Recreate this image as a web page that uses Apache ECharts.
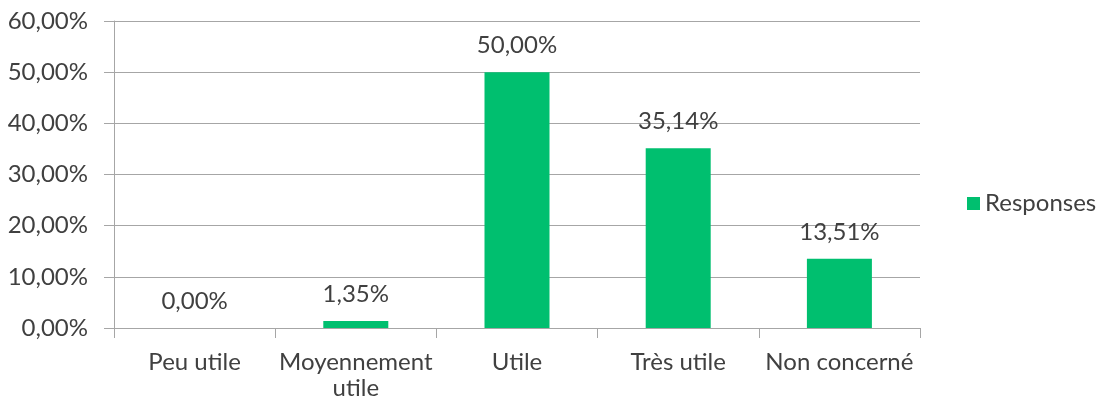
<!DOCTYPE html>
<html>
<head>
<meta charset="utf-8">
<script src="https://cdn.jsdelivr.net/npm/echarts@6/dist/echarts.min.js"></script>
<style>
  html, body { margin: 0; padding: 0; background: #fff; }
  #chart { width: 1100px; height: 407px; }
</style>
</head>
<body>
<div id="chart"></div>
<script>
const categories = ['Peu utile', 'Moyennement\nutile', 'Utile', 'Très utile', 'Non concerné']
const responses = [0, 1.35, 50.0, 35.14, 13.51]
const seriesName = 'Responses'

const fmt = (v) => v.toFixed(2).replace('.', ',') + '%'
const font = 'Lato, "Open Sans", sans-serif'
const textColor = '#404040'
const lineColor = '#a6a6a6'
const fs = 24

const chart = echarts.init(document.getElementById('chart'))

chart.setOption({
  animation: false,
  textStyle: { fontFamily: font },
  grid: { left: 114, right: 180, top: 21, bottom: 79, containLabel: false },
  legend: {
    data: [seriesName],
    left: 962,
    top: 'middle',
    orient: 'vertical',
    icon: 'rect',
    itemWidth: 13,
    itemHeight: 13,
    itemGap: 6,
    textStyle: { color: textColor, fontSize: fs, fontFamily: font }
  },
  xAxis: {
    type: 'category',
    data: categories,
    axisLine: { lineStyle: { color: lineColor, width: 1 } },
    axisTick: { show: true, length: 10, lineStyle: { color: lineColor } },
    axisLabel: {
      color: textColor,
      fontSize: fs,
      fontFamily: font,
      margin: 21,
      lineHeight: 26,
      interval: 0
    }
  },
  yAxis: {
    type: 'value',
    min: 0,
    max: 60,
    interval: 10,
    axisLine: { show: true, lineStyle: { color: lineColor, width: 1 } },
    axisTick: { show: true, length: 10, lineStyle: { color: lineColor } },
    splitLine: { lineStyle: { color: lineColor, width: 1 } },
    axisLabel: {
      color: textColor,
      fontSize: fs,
      fontFamily: font,
      margin: 26,
      formatter: (v) => fmt(v)
    }
  },
  series: [{
    name: seriesName,
    type: 'bar',
    data: responses,
    barWidth: 65,
    itemStyle: { color: '#00bf6f' },
    label: {
      show: true,
      position: 'top',
      distance: 15,
      color: textColor,
      fontSize: fs,
      fontFamily: font,
      formatter: (p) => fmt(p.value)
    }
  }]
})
</script>
</body>
</html>
